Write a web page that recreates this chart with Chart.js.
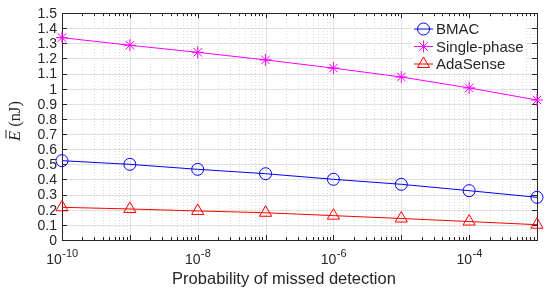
<!DOCTYPE html>
<html>
<head>
<meta charset="utf-8">
<script src="https://cdn.jsdelivr.net/npm/chart.js@4.4.0/dist/chart.umd.min.js"></script>
<style>
  html, body { margin: 0; padding: 0; background: #fff; }
  #wrap { width: 545px; height: 288px; position: relative; }
</style>
</head>
<body>
<div id="wrap"><canvas id="chart"></canvas></div>
<script>
// Probability of missed detection (log x)
const missProb = [1e-10, 1e-9, 1e-8, 1e-7, 1e-6, 1e-5, 1e-4, 1e-3];
const bmacEnergy = [0.524, 0.500, 0.467, 0.438, 0.401, 0.368, 0.326, 0.282];
const singlePhaseEnergy = [1.337, 1.287, 1.240, 1.190, 1.136, 1.077, 1.005, 0.925];
const adaSenseEnergy = [0.216, 0.205, 0.192, 0.180, 0.161, 0.142, 0.122, 0.101];

const xTickExponents = [-10, -8, -6, -4];
const yTickValues = [0, 0.1, 0.2, 0.3, 0.4, 0.5, 0.6, 0.7, 0.8, 0.9, 1, 1.1, 1.2, 1.3, 1.4, 1.5];
const yTickLabels = ['0', '0.1', '0.2', '0.3', '0.4', '0.5', '0.6', '0.7', '0.8', '0.9', '1', '1.1', '1.2', '1.3', '1.4', '1.5'];

const AXIS = '#262626';
const FONT = '"Liberation Sans", Arial, Helvetica, sans-serif';

function pts(ys) {
    return ys.map((y, i) => ({ x: missProb[i], y: y }));
}

// grid, box, ticks and labels drawn MATLAB-style from the chart scales
const matlabAxes = {
    id: 'matlabAxes',
    beforeDatasetsDraw(chart) {
        const ctx = chart.ctx;
        const a = chart.chartArea;
        const xs = chart.scales.x;
        const ys = chart.scales.y;
        ctx.save();
        ctx.lineWidth = 1;

        // minor x grid (dotted)
        ctx.strokeStyle = '#dcdcdc';
        ctx.setLineDash([1, 2]);
        for (let e = -10; e < -3; e++) {
            for (let k = 2; k <= 9; k++) {
                const px = Math.round(xs.getPixelForValue(k * Math.pow(10, e))) + 0.5;
                ctx.beginPath();
                ctx.moveTo(px, a.top);
                ctx.lineTo(px, a.bottom);
                ctx.stroke();
            }
        }
        ctx.setLineDash([]);

        // major grid
        ctx.strokeStyle = '#e0e0e0';
        for (let e = -9; e < -3; e++) {
            const px = Math.round(xs.getPixelForValue(Math.pow(10, e))) + 0.5;
            ctx.beginPath();
            ctx.moveTo(px, a.top);
            ctx.lineTo(px, a.bottom);
            ctx.stroke();
        }
        yTickValues.forEach(v => {
            const py = Math.round(ys.getPixelForValue(v)) + 0.5;
            ctx.beginPath();
            ctx.moveTo(a.left, py);
            ctx.lineTo(a.right, py);
            ctx.stroke();
        });

        // box
        ctx.strokeStyle = AXIS;
        ctx.strokeRect(Math.round(a.left) + 0.5, Math.round(a.top) + 0.5,
            Math.round(a.right - a.left), Math.round(a.bottom - a.top));

        // x ticks (top and bottom, inward)
        ctx.beginPath();
        for (let e = -10; e <= -3; e++) {
            const kMax = e === -3 ? 1 : 9;
            for (let k = 1; k <= kMax; k++) {
                const px = Math.round(xs.getPixelForValue(k * Math.pow(10, e))) + 0.5;
                const len = k === 1 ? 5 : 3;
                ctx.moveTo(px, a.bottom);
                ctx.lineTo(px, a.bottom - len);
                ctx.moveTo(px, a.top);
                ctx.lineTo(px, a.top + len);
            }
        }
        // y ticks (left and right, inward)
        yTickValues.forEach(v => {
            const py = Math.round(ys.getPixelForValue(v)) + 0.5;
            ctx.moveTo(a.left, py);
            ctx.lineTo(a.left + 5, py);
            ctx.moveTo(a.right, py);
            ctx.lineTo(a.right - 5, py);
        });
        ctx.stroke();

        // y tick labels
        ctx.fillStyle = AXIS;
        ctx.font = '14px ' + FONT;
        ctx.textAlign = 'right';
        ctx.textBaseline = 'middle';
        yTickValues.forEach((v, i) => {
            ctx.fillText(yTickLabels[i], a.left - 5, ys.getPixelForValue(v) + 1);
        });

        // x tick labels 10^e
        xTickExponents.forEach(e => {
            const px = xs.getPixelForValue(Math.pow(10, e));
            ctx.font = '14px ' + FONT;
            const base = '10';
            const bw = ctx.measureText(base).width;
            ctx.font = '11px ' + FONT;
            const ex = '-' + Math.abs(e);
            const ew = ctx.measureText(ex).width;
            const left = px - (bw + ew) / 2;
            ctx.textAlign = 'left';
            ctx.textBaseline = 'alphabetic';
            ctx.font = '14px ' + FONT;
            ctx.fillText(base, left, a.bottom + 24);
            ctx.font = '11px ' + FONT;
            ctx.fillText(ex, left + bw + 0.5, a.bottom + 17);
        });

        // x title
        ctx.font = '16.5px ' + FONT;
        ctx.textAlign = 'center';
        ctx.textBaseline = 'alphabetic';
        ctx.fillText('Probability of missed detection', 284, 284);

        // y title: italic E with bar, upright (nJ)
        ctx.save();
        ctx.translate(20, 121);
        ctx.rotate(-Math.PI / 2);
        const serif = '"Liberation Serif", "DejaVu Serif", serif';
        ctx.font = 'italic 16.5px ' + serif;
        const eW = ctx.measureText('E').width;
        ctx.font = '16.5px ' + serif;
        const restW = ctx.measureText(' (nJ)').width;
        let x0 = -(eW + restW) / 2;
        ctx.textAlign = 'left';
        ctx.font = 'italic 16.5px ' + serif;
        ctx.fillText('E', x0, 0);
        ctx.fillRect(x0 + 2.5, -14.5, eW - 1.5, 1);
        ctx.font = '16.5px ' + serif;
        ctx.fillText(' (nJ)', x0 + eW, 0);
        ctx.restore();

        ctx.restore();
    },
    afterDatasetsDraw(chart) {
        // legend box inside top-right
        const ctx = chart.ctx;
        const bx = 412, by = 20, bw = 114, bh = 52;
        ctx.save();
        ctx.fillStyle = '#fff';
        ctx.fillRect(bx, by, bw, bh);
        chart.data.datasets.forEach((ds, i) => {
            const cy = by + 9 + i * 17.5;
            ctx.strokeStyle = ds.borderColor;
            ctx.lineWidth = 1;
            ctx.beginPath();
            ctx.moveTo(bx + 2, cy);
            ctx.lineTo(bx + 21, cy);
            ctx.stroke();
            ctx.fillStyle = 'rgba(0,0,0,0)';
            Chart.helpers.drawPoint(ctx, {
                pointStyle: ds.pointStyle,
                radius: ds.pointRadius,
                borderWidth: 1
            }, bx + 11.5, cy);
            ctx.fillStyle = AXIS;
            ctx.font = '15px ' + FONT;
            ctx.textAlign = 'left';
            ctx.textBaseline = 'middle';
            ctx.fillText(ds.label, bx + 24, cy + 1);
        });
        ctx.restore();
    }
};

const mk = (label, ys, color, style, r) => ({
    label: label,
    data: pts(ys),
    borderColor: color,
    backgroundColor: 'rgba(0,0,0,0)',
    borderWidth: 1,
    pointStyle: style,
    pointRadius: r,
    pointBorderColor: color,
    pointBackgroundColor: 'rgba(0,0,0,0)',
    pointBorderWidth: 1,
    tension: 0,
    clip: false
});

new Chart(document.getElementById('chart'), {
    type: 'line',
    data: {
        datasets: [
            mk('BMAC', bmacEnergy, '#0000ff', 'circle', 6),
            mk('Single-phase', singlePhaseEnergy, '#ff00ff', 'star', 6),
            mk('AdaSense', adaSenseEnergy, '#ff0000', 'triangle', 7)
        ]
    },
    options: {
        responsive: true,
        maintainAspectRatio: false,
        animation: false,
        events: [],
        layout: { padding: { left: 62, top: 13, right: 6, bottom: 48 } },
        plugins: {
            legend: { display: false },
            tooltip: { enabled: false }
        },
        scales: {
            x: { type: 'logarithmic', min: 1e-10, max: 1e-3, display: false },
            y: { type: 'linear', min: 0, max: 1.5, display: false }
        }
    },
    plugins: [matlabAxes]
});
</script>
</body>
</html>
